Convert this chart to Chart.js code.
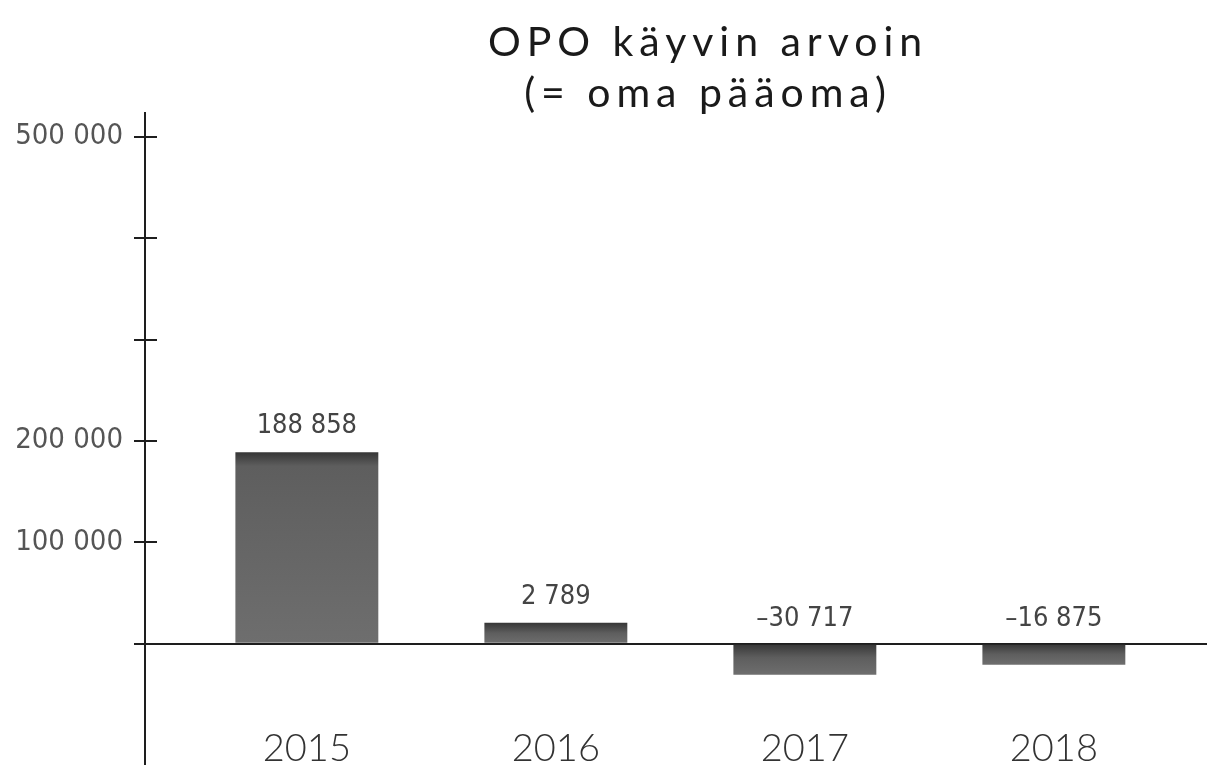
<!DOCTYPE html>
<html>
<head>
<meta charset="utf-8">
<script src="https://cdn.jsdelivr.net/npm/chart.js@4"></script>
<style>
  html, body { margin: 0; padding: 0; background: #fff; }
  #wrap { width: 1207px; height: 771px; }
</style>
</head>
<body>
<div id="wrap"><canvas id="chart" width="1207" height="771"></canvas></div>
<script>
// data
const years = ['2015', '2016', '2017', '2018'];
const values = [188858, 2789, -30717, -16875];
const yTicks = [0, 100000, 200000, 300000, 400000, 500000];
const yTickLabels = ['', '100 000', '200 000', '', '', '500 000'];
const titleLines = ['OPO käyvin arvoin', '(= oma pääoma)'];

const AXIS = '#1e1e1e';
const narrow = "'Liberation Sans Narrow', 'DejaVu Sans Condensed', Roboto, sans-serif";
const MIN_BAR = 21;

// 188858 -> "188 858", negatives get a dash
function fmt(v) {
    const s = Math.abs(v).toString().replace(/\B(?=(\d{3})+(?!\d))/g, ' ');
    return (v < 0 ? '–' : '') + s;
}

// dark top edge fading into the grey body of the bar
function barFill(c) {
    const chart = c.chart;
    const y = chart.scales.y;
    if (!chart.chartArea || !y || !c.raw) return '#666';
    const base = y.getPixelForValue(0);
    let tip = y.getPixelForValue(c.raw.y);
    if (Math.abs(base - tip) < MIN_BAR) tip = base + (c.raw.y < 0 ? MIN_BAR : -MIN_BAR);
    const top = Math.min(base, tip), bottom = Math.max(base, tip);
    const g = chart.ctx.createLinearGradient(0, top, 0, bottom);
    const edge = Math.min(0.5, 14 / (bottom - top));
    g.addColorStop(0, '#363636');
    g.addColorStop(edge, '#5e5e5e');
    g.addColorStop(1, '#6e6e6e');
    return g;
}

// two line title, spaced out like the original
const titlePlugin = {
    id: 'twoLineTitle',
    afterDraw(chart) {
        const ctx = chart.ctx;
        ctx.save();
        ctx.font = '400 41px Lato, sans-serif';
        ctx.fillStyle = '#1a1a1a';
        ctx.textAlign = 'center';
        ctx.textBaseline = 'alphabetic';
        const w = ctx.measureText(titleLines[0]).width;
        ctx.letterSpacing = Math.max(0, (440 - w) / titleLines[0].length) + 'px';
        ctx.fillText(titleLines[0], 708, 56);
        ctx.fillText(titleLines[1], 708, 107);
        ctx.restore();
    }
};

// tick marks that cross the y axis line
const crossTicks = {
    id: 'crossTicks',
    afterDraw(chart) {
        const y = chart.scales.y, ctx = chart.ctx, left = chart.chartArea.left;
        ctx.save();
        ctx.strokeStyle = AXIS;
        ctx.lineWidth = 2;
        y.ticks.forEach(t => {
            if (t.value === 0) return;
            const p = Math.round(y.getPixelForValue(t.value));
            ctx.beginPath();
            ctx.moveTo(left, p);
            ctx.lineTo(left + 12, p);
            ctx.stroke();
        });
        ctx.restore();
    }
};

// value labels above the bars (above the zero line for negatives)
const valueLabels = {
    id: 'valueLabels',
    afterDatasetsDraw(chart) {
        const ctx = chart.ctx;
        const meta = chart.getDatasetMeta(0);
        ctx.save();
        ctx.font = '300 27px ' + narrow;
        ctx.fillStyle = '#444';
        ctx.textAlign = 'center';
        ctx.textBaseline = 'alphabetic';
        meta.data.forEach((bar, i) => {
            const top = Math.min(bar.y, bar.base);
            ctx.fillText(fmt(values[i]), bar.x, top - 19);
        });
        ctx.restore();
    }
};

new Chart(document.getElementById('chart'), {
    type: 'bar',
    data: {
        datasets: [{
            data: values.map((v, i) => ({ x: i, y: v })),
            backgroundColor: barFill,
            borderWidth: 0,
            barPercentage: 0.574,
            categoryPercentage: 1,
            minBarLength: MIN_BAR
        }]
    },
    options: {
        responsive: false,
        animation: false,
        layout: { padding: { top: 113, right: 0, bottom: 0, left: 0 } },
        plugins: {
            legend: { display: false },
            title: { display: false },
            tooltip: { enabled: false }
        },
        scales: {
            x: {
                type: 'linear',
                min: -0.65,
                max: 3.615,
                offset: false,
                afterBuildTicks: s => { s.ticks = years.map((_, i) => ({ value: i })); },
                afterFit: s => { s.height = 7; },
                grid: { display: false, drawTicks: false, offset: false },
                border: { display: false },
                ticks: {
                    callback: v => years[v],
                    mirror: true,      // year labels sit inside the plot, next to the axis line
                    padding: -8,
                    autoSkip: false,
                    maxRotation: 0,
                    color: '#333',
                    font: { family: 'Lato, sans-serif', size: 38, weight: 300 }
                }
            },
            y: {
                min: -118700,
                max: 523500,
                afterBuildTicks: s => { s.ticks = yTicks.map(v => ({ value: v })); },
                afterFit: s => { s.width = 145; s.paddingTop = 0; s.paddingBottom = 0; },
                border: { display: true, color: AXIS, width: 2 },
                grid: {
                    color: c => (c.tick && c.tick.value === 0) ? AXIS : 'rgba(0,0,0,0)',
                    lineWidth: 2,
                    tickColor: AXIS,
                    tickLength: 11
                },
                ticks: {
                    callback: v => yTickLabels[yTicks.indexOf(v)],
                    padding: 11,
                    autoSkip: false,
                    color: '#555',
                    font: { family: narrow, size: 29, weight: 300 }
                }
            }
        }
    },
    plugins: [titlePlugin, crossTicks, valueLabels]
});
</script>
</body>
</html>
